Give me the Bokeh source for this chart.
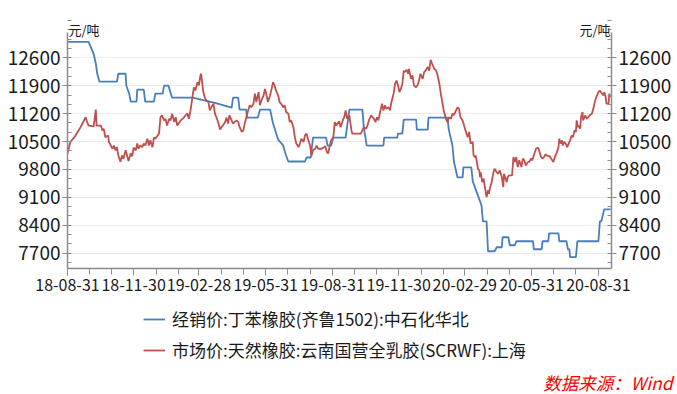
import pandas as pd
from bokeh.plotting import figure
from bokeh.layouts import column
from bokeh.models import (ColumnDataSource, Range1d, FixedTicker, LinearAxis,
                          DatetimeTickFormatter, Legend, LegendItem, Label, Title)
from bokeh.embed import file_html
from bokeh.resources import INLINE

FONT = "Noto Sans CJK SC"

series_names = ["经销价:丁苯橡胶(齐鲁1502):中石化华北",
                "市场价:天然橡胶:云南国营全乳胶(SCRWF):上海"]
unit_label = "元/吨"
source_note = "数据来源：Wind"

x_tick_dates = ["2018-08-31", "2018-11-30", "2019-02-28", "2019-05-31", "2019-08-31",
                "2019-11-30", "2020-02-29", "2020-05-31", "2020-08-31"]
y_ticks = [7700, 8400, 9100, 9800, 10500, 11200, 11900, 12600]

# Blue: 丁苯橡胶 (dealer price)
blue_dates = [
    "2018-08-31", "2018-09-29", "2018-10-06", "2018-10-09", "2018-10-11", "2018-10-14",
    "2018-11-07", "2018-11-09", "2018-11-19", "2018-11-20", "2018-11-24", "2018-11-26",
    "2018-12-04", "2018-12-05", "2018-12-14", "2018-12-16", "2018-12-28", "2018-12-30",
    "2019-01-09", "2019-01-11", "2019-01-17", "2019-01-22", "2019-02-19", "2019-03-22",
    "2019-04-14", "2019-04-16", "2019-04-23", "2019-04-25", "2019-05-04", "2019-05-05",
    "2019-05-20", "2019-05-23", "2019-06-06", "2019-06-10", "2019-06-17", "2019-06-24",
    "2019-06-27", "2019-07-01", "2019-07-24", "2019-07-26", "2019-08-01", "2019-08-04",
    "2019-08-22", "2019-08-24", "2019-08-29", "2019-09-01", "2019-09-18", "2019-09-23",
    "2019-10-11", "2019-10-13", "2019-10-17", "2019-11-09", "2019-11-10", "2019-11-28",
    "2019-11-29", "2019-12-05", "2019-12-07", "2019-12-24", "2019-12-25", "2020-01-09",
    "2020-01-10", "2020-02-05", "2020-02-07", "2020-02-12", "2020-02-14", "2020-02-19",
    "2020-02-26", "2020-02-27", "2020-03-09", "2020-03-11", "2020-03-17", "2020-03-23",
    "2020-03-25", "2020-03-30", "2020-04-01", "2020-04-10", "2020-04-13", "2020-04-20",
    "2020-04-21", "2020-04-29", "2020-05-01", "2020-05-08", "2020-05-10", "2020-06-02",
    "2020-06-03", "2020-06-14", "2020-06-15", "2020-06-23", "2020-06-24", "2020-07-07",
    "2020-07-08", "2020-07-18", "2020-07-20", "2020-07-22", "2020-07-23", "2020-07-31",
    "2020-08-02", "2020-08-31", "2020-09-02", "2020-09-04", "2020-09-08", "2020-09-17",
]
blue_vals = [
    13000, 13000, 12700, 12450, 12200, 12000,
    12000, 12200, 12200, 11900, 11700, 11500,
    11500, 11800, 11800, 11500, 11500, 11700,
    11700, 11900, 11900, 11600, 11600, 11470,
    11350, 11600, 11600, 11300, 11300, 11100,
    11100, 11300, 11300, 10950, 10550, 10400,
    10200, 10000, 10000, 10100, 10100, 10600,
    10600, 10400, 10400, 10600, 10600, 11300,
    11300, 10850, 10400, 10400, 10600, 10600,
    10700, 10700, 11050, 11050, 10800, 10800,
    11100, 11100, 10800, 10400, 10000, 9600,
    9600, 9850, 9850, 9500, 9200, 8900,
    8500, 8500, 7750, 7750, 7850, 7850,
    8100, 8100, 7900, 7900, 8000, 8000,
    7800, 7800, 8000, 8000, 8200, 8200,
    8000, 8000, 7800, 7800, 7600, 7600,
    8000, 8000, 8500, 8500, 8800, 8800,
]

# Red: 天然橡胶 (market price)
red_dates = [
    "2018-08-31", "2018-09-04", "2018-09-11", "2018-09-18", "2018-09-25", "2018-09-27", "2018-09-29",
    "2018-10-06", "2018-10-09", "2018-10-10", "2018-10-16", "2018-10-18", "2018-10-20", "2018-10-22", "2018-10-26", "2018-10-27",
    "2018-11-01", "2018-11-03", "2018-11-05", "2018-11-07", "2018-11-09", "2018-11-12", "2018-11-14", "2018-11-16", "2018-11-19", "2018-11-21", "2018-11-23", "2018-11-26", "2018-11-28", "2018-11-30",
    "2018-12-03", "2018-12-05", "2018-12-07", "2018-12-09", "2018-12-12", "2018-12-14", "2018-12-16", "2018-12-19", "2018-12-21", "2018-12-23", "2018-12-26", "2018-12-28", "2018-12-30",
    "2019-01-04", "2019-01-06", "2019-01-08", "2019-01-11", "2019-01-13", "2019-01-15", "2019-01-18", "2019-01-20", "2019-01-22", "2019-01-25", "2019-01-27", "2019-01-29",
    "2019-02-03", "2019-02-07", "2019-02-12", "2019-02-14", "2019-02-16", "2019-02-19", "2019-02-21", "2019-02-23", "2019-02-26", "2019-02-28",
    "2019-03-02", "2019-03-03", "2019-03-06", "2019-03-08", "2019-03-10", "2019-03-13", "2019-03-15", "2019-03-17", "2019-03-20", "2019-03-22", "2019-03-24", "2019-03-27", "2019-03-29", "2019-03-31",
    "2019-04-02", "2019-04-05", "2019-04-07", "2019-04-09", "2019-04-11", "2019-04-14", "2019-04-16", "2019-04-18", "2019-04-21", "2019-04-23", "2019-04-25", "2019-04-28", "2019-04-30",
    "2019-05-02", "2019-05-05", "2019-05-07", "2019-05-09", "2019-05-11", "2019-05-14", "2019-05-16", "2019-05-18", "2019-05-21", "2019-05-23", "2019-05-25", "2019-05-28", "2019-05-30",
    "2019-06-01", "2019-06-03", "2019-06-06", "2019-06-08", "2019-06-10", "2019-06-12", "2019-06-14", "2019-06-17", "2019-06-19", "2019-06-21", "2019-06-24", "2019-06-26", "2019-06-28",
    "2019-07-01", "2019-07-03", "2019-07-05", "2019-07-08", "2019-07-10", "2019-07-12", "2019-07-15", "2019-07-17", "2019-07-19", "2019-07-22", "2019-07-24", "2019-07-26", "2019-07-28", "2019-07-31",
    "2019-08-02", "2019-08-04", "2019-08-07", "2019-08-09", "2019-08-11", "2019-08-16", "2019-08-21", "2019-08-23", "2019-08-25", "2019-08-27", "2019-08-29",
    "2019-09-01", "2019-09-03", "2019-09-05", "2019-09-09", "2019-09-11", "2019-09-14", "2019-09-16", "2019-09-18", "2019-09-20", "2019-09-23", "2019-09-24", "2019-09-26", "2019-09-27",
    "2019-10-09", "2019-10-11", "2019-10-13", "2019-10-16", "2019-10-18", "2019-10-20", "2019-10-23", "2019-10-25", "2019-10-27", "2019-10-29", "2019-10-31",
    "2019-11-02", "2019-11-04", "2019-11-07", "2019-11-09", "2019-11-11", "2019-11-13", "2019-11-16", "2019-11-18", "2019-11-20", "2019-11-23", "2019-11-25", "2019-11-27", "2019-11-29",
    "2019-12-01", "2019-12-03", "2019-12-05", "2019-12-07", "2019-12-08", "2019-12-11", "2019-12-13", "2019-12-14", "2019-12-17", "2019-12-19", "2019-12-21", "2019-12-24", "2019-12-26", "2019-12-28", "2019-12-30",
    "2020-01-02", "2020-01-04", "2020-01-06", "2020-01-09", "2020-01-11", "2020-01-13", "2020-01-15", "2020-01-18", "2020-01-20", "2020-01-22", "2020-01-25", "2020-01-27", "2020-01-29", "2020-01-31",
    "2020-02-03", "2020-02-05", "2020-02-07", "2020-02-10", "2020-02-12", "2020-02-14", "2020-02-17", "2020-02-19", "2020-02-21", "2020-02-23", "2020-02-26", "2020-02-28",
    "2020-03-01", "2020-03-04", "2020-03-06", "2020-03-08", "2020-03-11", "2020-03-12", "2020-03-14", "2020-03-15", "2020-03-17", "2020-03-18", "2020-03-20", "2020-03-21", "2020-03-22", "2020-03-24", "2020-03-26", "2020-03-27", "2020-03-28", "2020-03-30",
    "2020-04-01", "2020-04-02", "2020-04-04", "2020-04-06", "2020-04-08", "2020-04-10", "2020-04-13", "2020-04-15", "2020-04-17", "2020-04-20", "2020-04-22", "2020-04-23", "2020-04-25", "2020-04-27", "2020-04-28", "2020-04-30",
    "2020-05-04", "2020-05-06", "2020-05-08", "2020-05-10", "2020-05-11", "2020-05-12", "2020-05-14", "2020-05-17", "2020-05-19", "2020-05-21", "2020-05-23", "2020-05-26", "2020-05-28", "2020-05-30",
    "2020-06-01", "2020-06-03", "2020-06-06", "2020-06-09", "2020-06-11", "2020-06-13", "2020-06-15", "2020-06-17", "2020-06-19", "2020-06-21", "2020-06-25", "2020-06-27", "2020-06-30",
    "2020-07-02", "2020-07-05", "2020-07-07", "2020-07-08", "2020-07-10", "2020-07-12", "2020-07-13", "2020-07-15", "2020-07-17", "2020-07-19", "2020-07-21", "2020-07-23", "2020-07-25", "2020-07-27", "2020-07-29", "2020-07-31",
    "2020-08-01", "2020-08-03", "2020-08-04", "2020-08-06", "2020-08-07", "2020-08-09", "2020-08-10", "2020-08-13", "2020-08-15", "2020-08-17", "2020-08-19", "2020-08-22", "2020-08-24", "2020-08-26", "2020-08-28", "2020-08-31",
    "2020-09-02", "2020-09-05", "2020-09-07", "2020-09-08", "2020-09-10", "2020-09-11", "2020-09-14", "2020-09-15", "2020-09-16",
]
red_vals = [
    10200, 10490, 10650, 10860, 11110, 10990, 10900,
    10880, 11300, 10900, 10900, 10780, 10820, 10610, 10650, 10490,
    10320, 10400, 10280, 10360, 10150, 9990, 10150, 10070, 10280, 10150, 10010, 10200, 10130, 10350,
    10280, 10450, 10320, 10400, 10360, 10450, 10400, 10570, 10400, 10530, 10360, 10600, 10570,
    10700, 11110, 11160, 11030, 11070, 10900, 11070, 11030, 11200, 10990, 11110, 10900,
    11030, 11100, 11210, 11070, 11240, 11610, 11860, 11780, 11990, 11910,
    12160, 12200, 11740, 11610, 11530, 11490, 11280, 11360, 11450, 11200, 11110, 10950, 10800, 10860,
    10900, 10990, 11100, 10950, 11160, 11030, 10950, 10990, 11030, 10990, 10860, 10740, 10780,
    10950, 11160, 11300, 11410, 11360, 11450, 11700, 11490, 11740, 11410, 11530, 11660, 11820,
    11660, 11490, 11660, 11820, 11990, 11910, 11780, 11660, 11490, 11450, 11360, 11410, 11240,
    11200, 10990, 11030, 10860, 10610, 10450, 10360, 10450, 10570, 10490, 10650, 10700, 10570, 10400,
    10150, 10280, 10320, 10400, 10320, 10320, 10380, 10240, 10200, 10400, 10530,
    10610, 10990, 10900, 11010, 10860, 11030, 11110, 11280, 11070, 11160, 11030, 10780, 10700,
    10700, 10780, 10860, 10820, 10900, 11030, 11160, 11110, 11070, 10990, 11110,
    11030, 11200, 11450, 11280, 11410, 11320, 11360, 11280, 11490, 11700, 11950, 12030, 11910,
    11740, 11820, 11950, 12280, 12240, 12300, 12200, 12320, 12070, 12160, 11910, 11860, 11910, 12030, 12200,
    12070, 12240, 12280, 12370, 12280, 12550, 12450, 12320, 12300, 12200, 11950, 11700, 11490, 11280,
    11070, 10990, 11110, 11070, 11200, 11160, 11280, 11360, 11320, 11110, 11030, 10900,
    10780, 10610, 10740, 10450, 10490, 10150, 10110, 10150, 9950, 9820, 9780, 9610, 9730, 9480, 9570, 9440, 9320, 9110,
    9280, 9190, 9360, 9480, 9690, 9820, 9730, 9690, 9780, 9610, 9360, 9690, 9570, 9480, 9610, 9650,
    9650, 10110, 9990, 10110, 9950, 9860, 10030, 9860, 10070, 10030, 9900, 9990, 9990, 10070,
    10030, 10150, 10320, 10350, 10240, 10110, 10070, 10110, 10180, 10150, 10130, 10070, 9990,
    10110, 10240, 10360, 10570, 10450, 10530, 10400, 10490, 10450, 10360, 10450, 10530, 10650, 10610, 10780, 10740,
    11030, 10860, 10900, 10820, 11110, 11240, 11030, 11160, 11070, 11110, 11160, 11200, 11320, 11490, 11610, 11740,
    11780, 11700, 11660, 11740, 11610, 11450, 11450, 11700, 11610,
]

assert len(blue_dates) == len(blue_vals), (len(blue_dates), len(blue_vals))
assert len(red_dates) == len(red_vals), (len(red_dates), len(red_vals))

BLUE = "#4A7EBB"
RED = "#C0504D"
AXIS = "#8C8C8C"
TXT = "#1A1A1A"

Y_LO, Y_HI = 7317, 13234      # extent of the value axes
Y_TOP = 13535                  # a little head-room inside the frame for the unit labels


def ms(d):
    return pd.Timestamp(d).value / 1e6


blue_src = ColumnDataSource(dict(x=pd.to_datetime(blue_dates), y=blue_vals))
red_src = ColumnDataSource(dict(x=pd.to_datetime(red_dates), y=red_vals))

p = figure(width=677, height=304, x_axis_type="datetime",
           x_range=Range1d(pd.Timestamp("2018-08-31"), pd.Timestamp("2020-09-18")),
           y_range=Range1d(Y_LO, Y_TOP),
           output_backend="svg", toolbar_location=None,
           min_border_left=67, min_border_right=66, min_border_top=20, min_border_bottom=36)
p.outline_line_color = None
p.background_fill_color = "white"
p.border_fill_color = "white"

rb = p.line("x", "y", source=blue_src, line_color=BLUE, line_width=1.8)
rr = p.line("x", "y", source=red_src, line_color=RED, line_width=1.8)

# ticks
try:
    month_ends = pd.date_range("2018-08-31", "2020-09-30", freq="ME")
except Exception:
    month_ends = pd.date_range("2018-08-31", "2020-09-30", freq="M")
xticker = FixedTicker(ticks=[ms(d) for d in x_tick_dates],
                      minor_ticks=[ms(d) for d in month_ends])
fmt = "%y-%m-%d"
p.xaxis.ticker = xticker
p.xaxis.formatter = DatetimeTickFormatter(
    microseconds=fmt, milliseconds=fmt, seconds=fmt, minsec=fmt, minutes=fmt,
    hourmin=fmt, hours=fmt, days=fmt, months=fmt, years=fmt)

step = (y_ticks[1] - y_ticks[0]) / 3
y_minor = [y_ticks[0] + k * step for k in range(-2, 3 * len(y_ticks) + 2)]
yticker = FixedTicker(ticks=y_ticks, minor_ticks=y_minor)
p.yaxis.ticker = yticker
p.add_layout(LinearAxis(ticker=yticker), "right")

for ax in p.xaxis:
    ax.axis_line_color = AXIS
    ax.axis_line_width = 1.5
    ax.major_tick_line_color = AXIS
    ax.minor_tick_line_color = AXIS
    ax.major_tick_out = 7
    ax.major_tick_in = 0
    ax.minor_tick_out = 6
    ax.minor_tick_in = 0
    ax.major_label_text_font = FONT
    ax.major_label_text_font_size = "16px"
    ax.major_label_text_color = TXT
    ax.major_label_standoff = 3

for ax in p.yaxis:
    ax.bounds = (Y_LO, Y_HI)
    ax.axis_line_color = AXIS
    ax.axis_line_width = 1.5
    ax.major_tick_line_color = AXIS
    ax.minor_tick_line_color = AXIS
    ax.major_tick_out = 5
    ax.major_tick_in = 0
    ax.minor_tick_out = 0
    ax.minor_tick_in = 4
    ax.major_label_text_font = FONT
    ax.major_label_text_font_size = "19px"
    ax.major_label_text_color = TXT
    ax.major_label_standoff = 2

p.xgrid.visible = False
p.ygrid.ticker = yticker
p.ygrid.grid_line_color = "#EBEBEB"
p.ygrid.grid_line_width = 1

# unit labels at the top of both value axes
p.add_layout(Label(x=1, y=239, x_units="screen", y_units="screen", text=unit_label,
                   text_font=FONT, text_font_size="13px", text_color=TXT,
                   text_align="left", text_baseline="middle"))
p.add_layout(Label(x=543, y=239, x_units="screen", y_units="screen", text=unit_label,
                   text_font=FONT, text_font_size="13px", text_color=TXT,
                   text_align="right", text_baseline="middle"))

# lower strip: legend and source note (its frame is aligned with the chart frame)
q = figure(width=677, height=90, x_range=Range1d(0, 1), y_range=Range1d(0, 1),
           output_backend="svg", toolbar_location=None,
           x_axis_location=None, y_axis_location=None, min_border=0)
q.outline_line_color = None
q.grid.visible = False
q.background_fill_color = "white"
q.border_fill_color = "white"
nan = float("nan")
kb = q.line(x=[nan], y=[nan], line_color=BLUE, line_width=1.8)
kr = q.line(x=[nan], y=[nan], line_color=RED, line_width=1.8)

legend = Legend(items=[LegendItem(label=series_names[0], renderers=[kb]),
                       LegendItem(label=series_names[1], renderers=[kr])],
                location=(76, 5), orientation="vertical",
                padding=0, margin=0, spacing=6,
                glyph_width=22, glyph_height=20, label_height=20, label_standoff=7,
                label_text_font=FONT, label_text_font_size="17px", label_text_color=TXT,
                border_line_alpha=0, background_fill_alpha=0)
q.add_layout(legend)
q.add_layout(Title(text=source_note, align="right", offset=-61, standoff=0,
                   text_font=FONT, text_font_size="17.5px", text_color="#FF0000",
                   text_font_style="italic"), "below")

layout = column(p, q, spacing=0)
open("out.html", "w").write(file_html(layout, INLINE))
